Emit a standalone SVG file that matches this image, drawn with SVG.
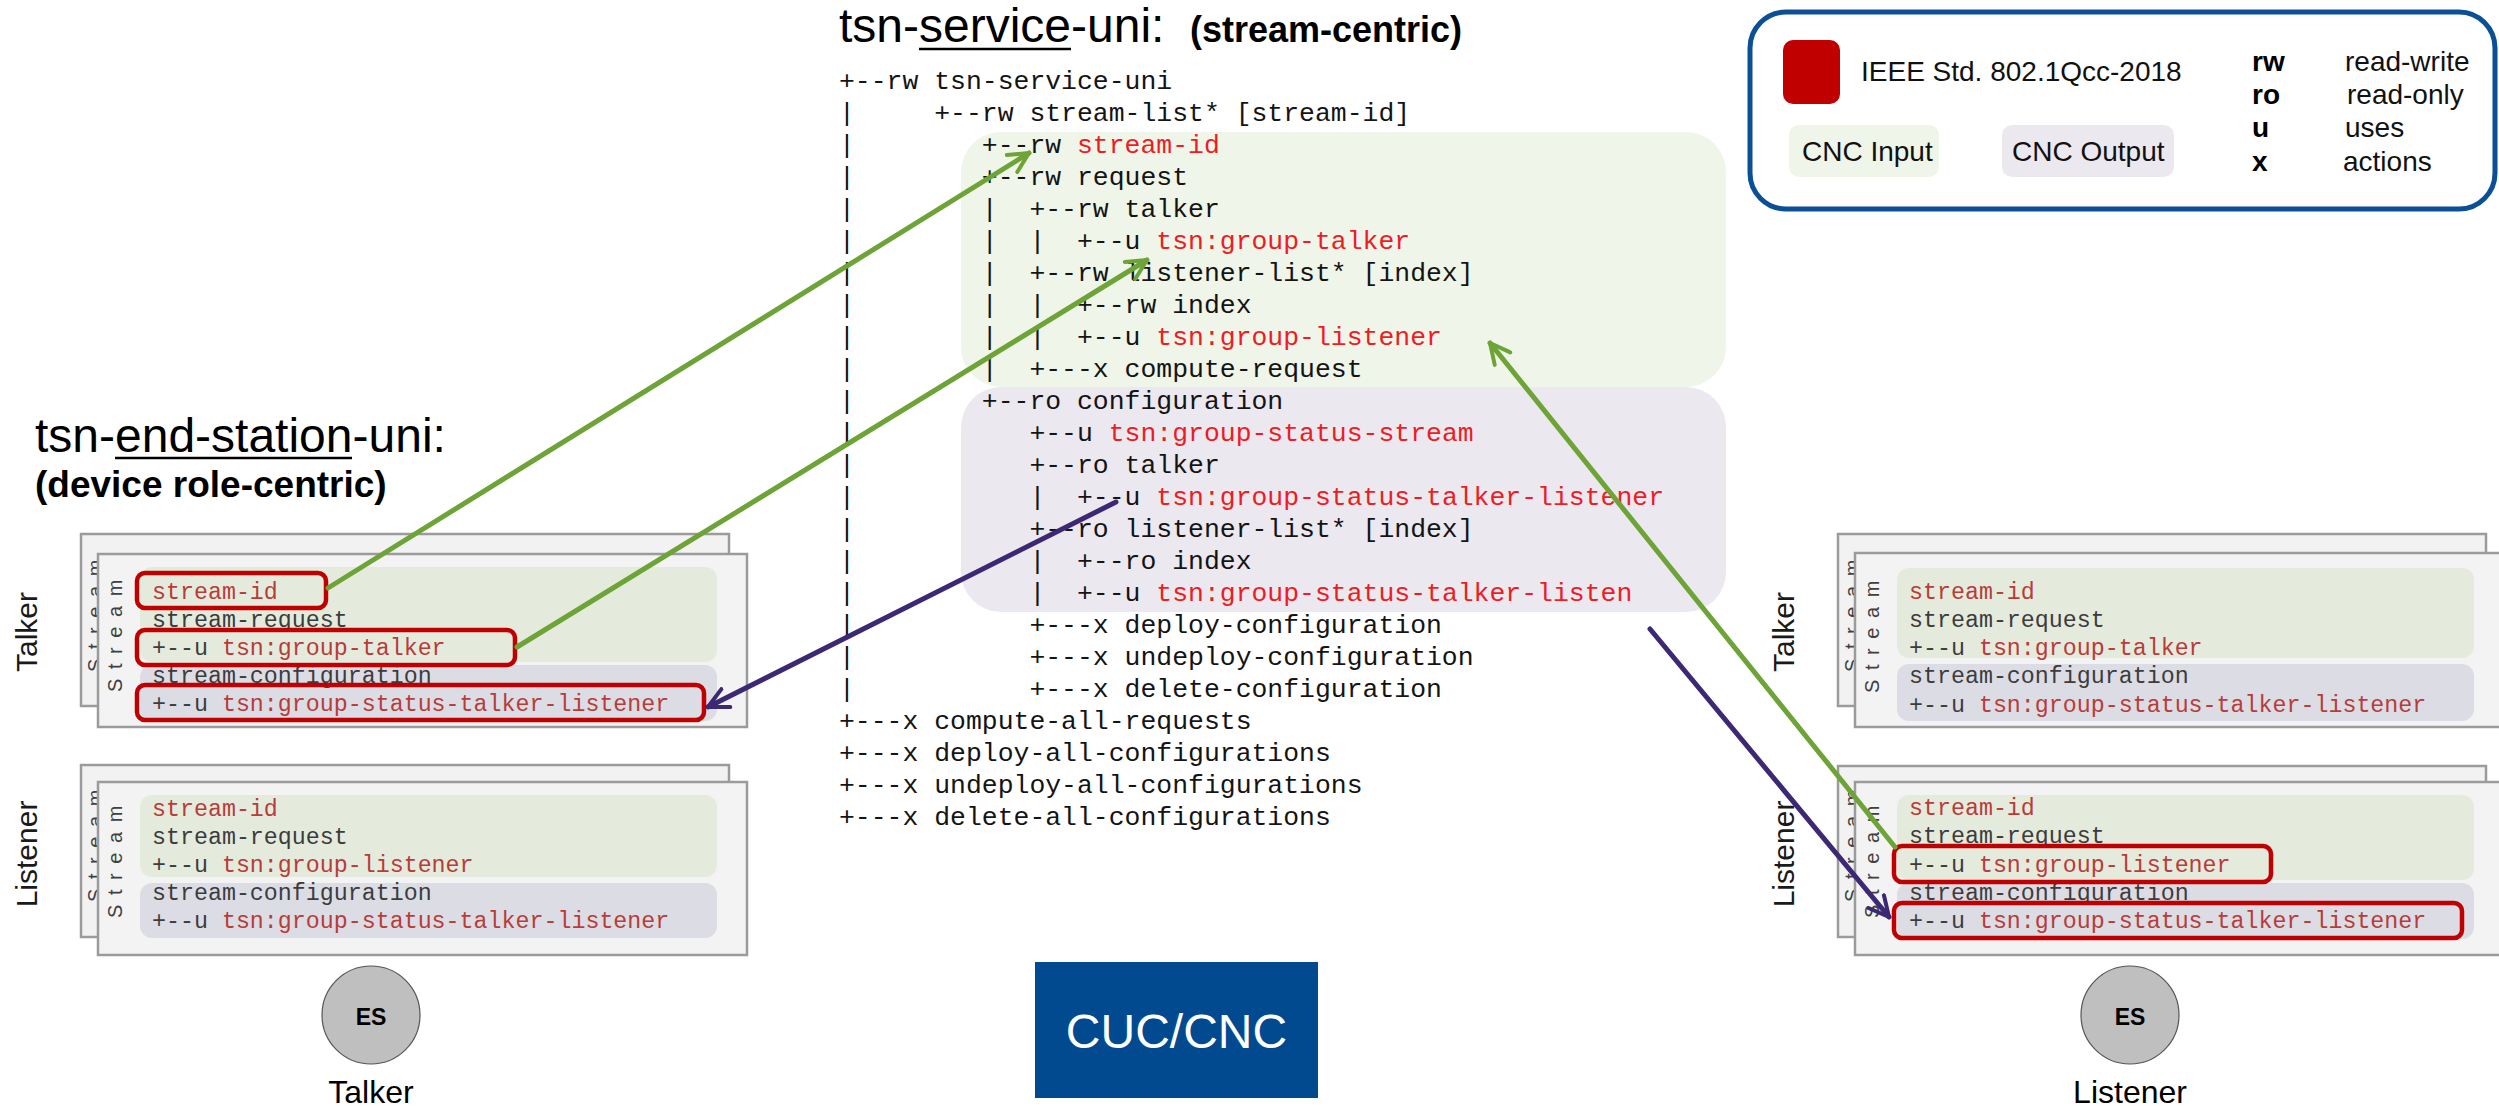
<svg xmlns="http://www.w3.org/2000/svg" width="2499" height="1109" viewBox="0 0 2499 1109">
<style>
.sans{font-family:"Liberation Sans",Arial,sans-serif}
.b{font-weight:bold}
.code{font-family:"Liberation Mono","Courier New",monospace;font-size:26.45px;fill:#141414;white-space:pre}
.code .r{fill:#ee1c24}
.ct{font-family:"Liberation Mono","Courier New",monospace;font-size:23.3px;fill:#3c3c3c;white-space:pre}
.ct .r{fill:#b83c3a}
.cardb{fill:#f2f2f2;stroke:#9b9b9b;stroke-width:2.5}
.cardf{fill:#f3f3f3;stroke:#9b9b9b;stroke-width:2.5}
.gin{fill:#e4ebdc}
.pin{fill:#dcdce5}
.hl{fill:none;stroke:#c00000;stroke-width:4.5}
.strm{font-family:"Liberation Sans",Arial,sans-serif;font-size:20px;letter-spacing:9.6px;fill:#404040}
.role{font-family:"Liberation Sans",Arial,sans-serif;font-size:30px;fill:#1a1a1a}
.es{fill:#bfbfbf;stroke:#555;stroke-width:1.2}
.cg{fill:none;stroke:#6ea437;stroke-width:5;stroke-linecap:round}
.cp{fill:none;stroke:#3c2873;stroke-width:5;stroke-linecap:round}
</style>
<defs>
<marker id="ag" viewBox="0 0 12 12" refX="11" refY="6" markerWidth="24" markerHeight="24" markerUnits="userSpaceOnUse" orient="auto"><path d="M1,1 L11,6 L1,11" fill="none" stroke="#6ea437" stroke-width="2" stroke-linecap="round" stroke-linejoin="round"/></marker>
<marker id="ap" viewBox="0 0 12 12" refX="11" refY="6" markerWidth="24" markerHeight="24" markerUnits="userSpaceOnUse" orient="auto"><path d="M1,1 L11,6 L1,11" fill="none" stroke="#3c2873" stroke-width="2" stroke-linecap="round" stroke-linejoin="round"/></marker>
</defs>
<rect width="2499" height="1109" fill="#ffffff"/>

<g id="service-title">
<text class="sans" x="839" y="42" font-size="48" fill="#000">tsn-service-uni:</text>
<line x1="919" y1="49" x2="1071" y2="49" stroke="#000" stroke-width="2.5"/>
<text class="sans b" x="1190" y="42" font-size="36" fill="#000">(stream-centric)</text>
</g>

<g id="service-tree">
<rect x="961" y="132" width="765" height="255" rx="40" fill="#eff5e9"/>
<rect x="961" y="387" width="765" height="225" rx="40" fill="#ebe8f0"/>
<text class="code" xml:space="preserve">
<tspan x="839" y="89">+--rw tsn-service-uni</tspan>
<tspan x="839" y="121">|     +--rw stream-list* [stream-id]</tspan>
<tspan x="839" y="153">|        +--rw <tspan class="r">stream-id</tspan></tspan>
<tspan x="839" y="185">|        +--rw request</tspan>
<tspan x="839" y="217">|        |  +--rw talker</tspan>
<tspan x="839" y="249">|        |  |  +--u <tspan class="r">tsn:group-talker</tspan></tspan>
<tspan x="839" y="281">|        |  +--rw listener-list* [index]</tspan>
<tspan x="839" y="313">|        |  |  +--rw index</tspan>
<tspan x="839" y="345">|        |  |  +--u <tspan class="r">tsn:group-listener</tspan></tspan>
<tspan x="839" y="377">|        |  +---x compute-request</tspan>
<tspan x="839" y="409">|        +--ro configuration</tspan>
<tspan x="839" y="441">|           +--u <tspan class="r">tsn:group-status-stream</tspan></tspan>
<tspan x="839" y="473">|           +--ro talker</tspan>
<tspan x="839" y="505">|           |  +--u <tspan class="r">tsn:group-status-talker-listener</tspan></tspan>
<tspan x="839" y="537">|           +--ro listener-list* [index]</tspan>
<tspan x="839" y="569">|           |  +--ro index</tspan>
<tspan x="839" y="601">|           |  +--u <tspan class="r">tsn:group-status-talker-listen</tspan></tspan>
<tspan x="839" y="633">|           +---x deploy-configuration</tspan>
<tspan x="839" y="665">|           +---x undeploy-configuration</tspan>
<tspan x="839" y="697">|           +---x delete-configuration</tspan>
<tspan x="839" y="729">+---x compute-all-requests</tspan>
<tspan x="839" y="761">+---x deploy-all-configurations</tspan>
<tspan x="839" y="793">+---x undeploy-all-configurations</tspan>
<tspan x="839" y="825">+---x delete-all-configurations</tspan>
</text>
</g>

<g id="legend">
<rect x="1750" y="12" width="745" height="197" rx="36" fill="#ffffff" stroke="#0b4f96" stroke-width="5"/>
<rect x="1783" y="40" width="57" height="64" rx="10" fill="#c00000"/>
<text class="sans" x="1861" y="81" font-size="28" fill="#111">IEEE Std. 802.1Qcc-2018</text>
<rect x="1789" y="125" width="150" height="52" rx="10" fill="#eff5e9"/>
<text class="sans" x="1802" y="161" font-size="28" fill="#111">CNC Input</text>
<rect x="2002" y="125" width="172" height="52" rx="10" fill="#ebe8f0"/>
<text class="sans" x="2012" y="161" font-size="28" fill="#111">CNC Output</text>
<text class="sans b" x="2252" y="71" font-size="28" fill="#000">rw</text>
<text class="sans b" x="2252" y="104" font-size="28" fill="#000">ro</text>
<text class="sans b" x="2252" y="137" font-size="28" fill="#000">u</text>
<text class="sans b" x="2252" y="171" font-size="28" fill="#000">x</text>
<text class="sans" x="2345" y="71" font-size="28" fill="#111">read-write</text>
<text class="sans" x="2347" y="104" font-size="28" fill="#111">read-only</text>
<text class="sans" x="2345" y="137" font-size="28" fill="#111">uses</text>
<text class="sans" x="2343" y="171" font-size="28" fill="#111">actions</text>
</g>

<g id="end-station-title">
<text class="sans" x="35" y="452" font-size="48" fill="#000">tsn-end-station-uni:</text>
<line x1="115" y1="458" x2="352" y2="458" stroke="#000" stroke-width="2.5"/>
<text class="sans b" x="35" y="497" font-size="37" fill="#000">(device role-centric)</text>
</g>

<g id="left-talker">
<text class="role" transform="translate(37,632) rotate(-90)" text-anchor="middle">Talker</text>
<rect class="cardb" x="81" y="534" width="648" height="172"/>
<text class="strm" transform="translate(102,616) rotate(-90)" x="-56">Stream</text>
<rect class="cardf" x="98" y="554" width="649" height="173"/>
<text class="strm" transform="translate(122,636) rotate(-90)" x="-56">Stream</text>
<rect class="gin" x="140" y="567" width="577" height="95" rx="12"/>
<rect class="pin" x="140" y="665" width="577" height="56" rx="12"/>
<text class="ct" xml:space="preserve"><tspan x="152" y="599" class="r">stream-id</tspan><tspan x="152" y="627">stream-request</tspan><tspan x="152" y="655">+--u <tspan class="r">tsn:group-talker</tspan></tspan><tspan x="152" y="683">stream-configuration</tspan><tspan x="152" y="711">+--u <tspan class="r">tsn:group-status-talker-listener</tspan></tspan></text>
<rect class="hl" x="137" y="573" width="189" height="35" rx="8"/>
<rect class="hl" x="137" y="630" width="378" height="35" rx="8"/>
<rect class="hl" x="137" y="685" width="567" height="35" rx="8"/>
</g>

<g id="left-listener">
<text class="role" transform="translate(37,854) rotate(-90)" text-anchor="middle">Listener</text>
<rect class="cardb" x="81" y="765" width="648" height="172"/>
<text class="strm" transform="translate(102,846) rotate(-90)" x="-56">Stream</text>
<rect class="cardf" x="98" y="782" width="649" height="173"/>
<text class="strm" transform="translate(122,862) rotate(-90)" x="-56">Stream</text>
<rect class="gin" x="140" y="795" width="577" height="82" rx="12"/>
<rect class="pin" x="140" y="883" width="577" height="55" rx="12"/>
<text class="ct" xml:space="preserve"><tspan x="152" y="816" class="r">stream-id</tspan><tspan x="152" y="844">stream-request</tspan><tspan x="152" y="872">+--u <tspan class="r">tsn:group-listener</tspan></tspan><tspan x="152" y="900">stream-configuration</tspan><tspan x="152" y="928">+--u <tspan class="r">tsn:group-status-talker-listener</tspan></tspan></text>
</g>

<g id="right-talker">
<text class="role" transform="translate(1794,632) rotate(-90)" text-anchor="middle">Talker</text>
<rect class="cardb" x="1838" y="534" width="648" height="172"/>
<text class="strm" transform="translate(1859,616) rotate(-90)" x="-56">Stream</text>
<rect class="cardf" x="1855" y="553" width="660" height="174"/>
<text class="strm" transform="translate(1879,637) rotate(-90)" x="-56">Stream</text>
<rect class="gin" x="1897" y="568" width="577" height="90" rx="12"/>
<rect class="pin" x="1897" y="664" width="577" height="57" rx="12"/>
<text class="ct" xml:space="preserve"><tspan x="1909" y="599" class="r">stream-id</tspan><tspan x="1909" y="627">stream-request</tspan><tspan x="1909" y="655">+--u <tspan class="r">tsn:group-talker</tspan></tspan><tspan x="1909" y="683">stream-configuration</tspan><tspan x="1909" y="712">+--u <tspan class="r">tsn:group-status-talker-listener</tspan></tspan></text>
</g>

<g id="right-listener">
<text class="role" transform="translate(1794,854) rotate(-90)" text-anchor="middle">Listener</text>
<rect class="cardb" x="1838" y="766" width="648" height="171"/>
<text class="strm" transform="translate(1859,846) rotate(-90)" x="-56">Stream</text>
<rect class="cardf" x="1855" y="782" width="660" height="173"/>
<text class="strm" transform="translate(1879,862) rotate(-90)" x="-56">Stream</text>
<rect class="gin" x="1897" y="795" width="577" height="85" rx="12"/>
<rect class="pin" x="1897" y="883" width="577" height="56" rx="12"/>
<text class="ct" xml:space="preserve"><tspan x="1909" y="815" class="r">stream-id</tspan><tspan x="1909" y="843">stream-request</tspan><tspan x="1909" y="872">+--u <tspan class="r">tsn:group-listener</tspan></tspan><tspan x="1909" y="900">stream-configuration</tspan><tspan x="1909" y="928">+--u <tspan class="r">tsn:group-status-talker-listener</tspan></tspan></text>
<rect class="hl" x="1894" y="846" width="377" height="36" rx="8"/>
<rect class="hl" x="1894" y="903" width="568" height="35" rx="8"/>
</g>

<g id="es-talker">
<circle class="es" cx="371" cy="1015" r="49"/>
<text class="sans b" x="371" y="1025" font-size="23" text-anchor="middle" fill="#000">ES</text>
<text class="sans" x="371" y="1103" font-size="32" text-anchor="middle" fill="#000">Talker</text>
</g>

<g id="es-listener">
<circle class="es" cx="2130" cy="1015" r="49"/>
<text class="sans b" x="2130" y="1025" font-size="23" text-anchor="middle" fill="#000">ES</text>
<text class="sans" x="2130" y="1103" font-size="32" text-anchor="middle" fill="#000">Listener</text>
</g>

<g id="cuc-cnc">
<rect x="1035" y="962" width="283" height="136" fill="#024a8f"/>
<text class="sans" x="1176.5" y="1048" font-size="48" text-anchor="middle" fill="#ffffff">CUC/CNC</text>
</g>

<g id="connectors">
<line class="cg" x1="328" y1="588" x2="1029" y2="153" marker-end="url(#ag)"/>
<line class="cg" x1="517" y1="647" x2="1147" y2="260" marker-end="url(#ag)"/>
<line class="cg" x1="1895" y1="847" x2="1490" y2="343" marker-end="url(#ag)"/>
<line class="cp" x1="1116" y1="502" x2="708" y2="707" marker-end="url(#ap)"/>
<line class="cp" x1="1650" y1="629" x2="1889" y2="917" marker-end="url(#ap)"/>
</g>
</svg>
